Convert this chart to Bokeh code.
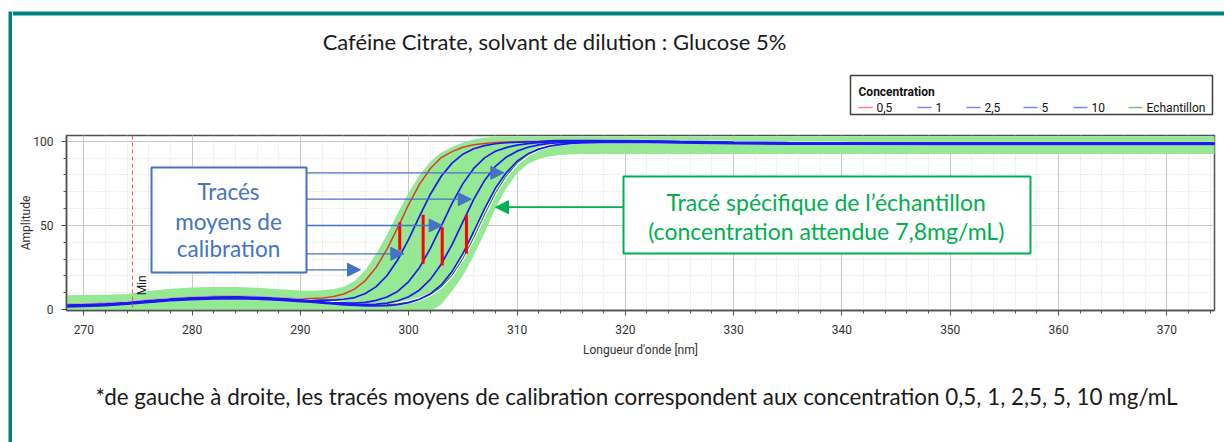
from bokeh.plotting import figure
from bokeh.layouts import row, column
from bokeh.models import (Range1d, FixedTicker, Span, Label,
                          BoxAnnotation, Arrow, NormalHead, ColumnDataSource)
from bokeh.core.properties import value
from bokeh.embed import file_html
from bokeh.resources import INLINE

# ---------------- data ----------------
wavelength = [268, 270, 272, 274, 276, 278, 280, 282, 284, 286, 288, 290,
              291, 292, 293, 294, 295, 296, 297, 298, 299, 300, 301, 302, 303,
              304, 305, 306, 307, 308, 309, 310, 311, 312, 313, 314, 315, 316,
              318, 320, 322, 325, 330, 335, 340, 350, 360, 370, 375]

conc_05 = [2.9, 3.2, 3.7, 4.5, 5.6, 6.6, 7.3, 7.7, 7.9, 7.6, 6.9, 6.3,
           6.6, 6.9, 7.6, 9.2, 12.1, 17.2, 25.1, 35.9, 48.9, 62.5, 74.5, 83.8, 90.3,
           93.8, 96.4, 97.9, 98.7, 99.2, 99.5, 99.7, 99.8, 99.9, 100.0, 100.0, 100.0, 100.0,
           100.0, 100.0, 99.9, 99.6, 99.2, 98.9, 98.8, 98.7, 98.7, 98.7, 98.7]
conc_1 = [2.55, 2.85, 3.35, 4.15, 5.25, 6.25, 6.95, 7.35, 7.55, 7.25, 6.55, 5.75,
          5.35, 5.6, 5.6, 6.1, 7.1, 9.5, 13.6, 20.2, 29.7, 41.8, 55.5, 68.5, 79.2,
          87.0, 92.3, 95.5, 97.4, 98.5, 99.1, 99.4, 99.6, 99.8, 100.2, 100.3, 100.3, 100.3,
          100.3, 100.3, 100.2, 99.9, 99.5, 99.2, 99.1, 99.0, 99.0, 99.0, 99.0]
conc_25 = [2.2, 2.5, 3.0, 3.8, 4.9, 5.9, 6.6, 7.0, 7.2, 6.9, 6.2, 5.4,
           5.0, 4.5, 4.0, 3.9, 3.8, 4.2, 5.4, 7.4, 10.9, 16.6, 25.0, 36.3, 49.6,
           63.1, 74.8, 83.8, 90.1, 94.0, 96.2, 97.7, 98.6, 99.2, 99.6, 99.8, 100.0, 100.0,
           100.0, 100.0, 99.9, 99.6, 99.2, 98.9, 98.8, 98.7, 98.7, 98.7, 98.7]
conc_5 = [1.85, 2.15, 2.65, 3.45, 4.55, 5.55, 6.25, 6.65, 6.85, 6.55, 5.85, 5.05,
          4.65, 4.15, 3.7, 3.3, 3.0, 3.0, 3.2, 3.8, 5.2, 7.6, 11.6, 17.9, 26.9,
          38.6, 52.1, 65.4, 76.7, 85.1, 90.5, 94.1, 96.4, 97.8, 98.7, 99.1, 99.4, 99.6,
          99.7, 99.7, 99.6, 99.3, 98.9, 98.6, 98.5, 98.4, 98.4, 98.4, 98.4]
conc_10 = [1.5, 1.8, 2.3, 3.1, 4.2, 5.2, 5.9, 6.3, 6.5, 6.2, 5.5, 4.7,
           4.3, 3.8, 3.3, 2.8, 2.4, 2.1, 2.1, 2.3, 2.9, 4.1, 6.1, 9.4, 14.6,
           22.5, 33.2, 46.2, 59.8, 72.0, 81.2, 88.1, 92.5, 95.3, 97.0, 98.0, 98.7, 99.0,
           99.3, 99.4, 99.3, 99.0, 98.6, 98.3, 98.2, 98.1, 98.1, 98.1, 98.1]
sample = [2.2, 2.5, 3.0, 3.8, 4.9, 5.9, 6.6, 7.0, 7.2, 6.9, 6.2, 5.4,
          5.0, 4.5, 4.0, 3.5, 3.0, 2.6, 2.7, 2.9, 3.4, 4.4, 6.1, 8.9, 13.5,
          20.4, 30.3, 42.8, 56.4, 69.2, 79.4, 87.0, 92.1, 95.3, 97.3, 98.4, 99.1, 99.5,
          99.9, 100.0, 99.9, 99.6, 99.2, 98.9, 98.8, 98.7, 98.7, 98.7, 98.7]
band_high = [8.4, 8.6, 8.8, 9.2, 11.0, 12.3, 13.0, 13.3, 13.3, 12.9, 12.0, 11.3,
             11.2, 11.4, 12.0, 13.5, 17.0, 23.5, 33.0, 44.5, 57.5, 69.5, 80.0, 88.0, 93.3,
             96.6, 99.2, 101.0, 102.2, 102.7, 102.8, 102.8, 102.8, 102.8, 102.8, 102.8, 102.8, 102.8,
             102.8, 102.8, 102.8, 102.8, 102.8, 102.8, 102.8, 102.8, 102.8, 102.8, 102.8]
band_low = [-1, -1, -1, -1, -1, -1, -1, -1, -1, -1, -1, -1,
            -1, -1, -1, -1, -1, -1, -1, -1, -1, -1, -1, -1, 3.0,
            11.0, 20.0, 32.0, 45.5, 60.0, 72.0, 81.0, 86.5, 89.5, 91.0, 91.8, 92.2, 92.4,
            92.4, 92.4, 92.4, 92.4, 92.4, 92.4, 92.4, 92.4, 92.4, 92.4, 92.4]

series_labels = ["0,5", "1", "2,5", "5", "10", "Echantillon"]
series_key_colors = ["#ff7f7f", "#7f7fff", "#7f7fff", "#7f7fff", "#7f7fff", "#7fbf7f"]
legend_title = "Concentration"
chart_title = "Caféine Citrate, solvant de dilution : Glucose 5%"
footnote = ("*de gauche à droite, les tracés moyens de calibration correspondent "
            "aux concentration 0,5, 1, 2,5, 5, 10 mg/mL")

# red marks between neighbouring calibration curves
bar_x = [299.17, 301.33, 303.09, 305.33]
bar_low = [35.1, 27.2, 26.1, 33.1]
bar_high = [51.9, 56.3, 48.9, 56.3]

min_position = 274.49

x_ticks = [270, 280, 290, 300, 310, 320, 330, 340, 350, 360, 370]
x_minor = list(range(268, 376, 2))
y_ticks = [0, 50, 100]
y_minor = [0, 10, 20, 30, 40, 50, 60, 70, 80, 90, 100]

TEAL = "#008080"
AX_FONT = "Roboto"
BOX_FONT = "Lato"


def no_align(f):
    if "frame_align" in f.properties():
        f.frame_align = False


def blank(width, height, x0, y0):
    # a figure whose frame is its whole canvas, with pixel-like ranges
    f = figure(width=width, height=height, x_range=Range1d(x0, x0 + width),
               y_range=Range1d(y0 + height, y0), output_backend="svg", toolbar_location=None,
               min_border=0, x_axis_location=None, y_axis_location=None)
    f.outline_line_color = None
    f.grid.visible = False
    f.background_fill_color = "white"
    f.border_fill_color = "white"
    no_align(f)
    return f


# ---------------- left teal bar ----------------
left_bar = blank(12, 442, 0, 0)
left_bar.quad(left=[8], right=[12], top=[11], bottom=[442], fill_color=TEAL, line_color=None)

# ---------------- header: teal line, title, legend ----------------
header = blank(1212, 127, 12, 0)
header.quad(left=[12], right=[1224], top=[11], bottom=[15], fill_color=TEAL, line_color=None)
header.text(x=[554], y=[41], text=[chart_title], text_font=value(BOX_FONT), text_font_size="22px",
            text_align="center", text_baseline="middle", text_color="#1a1a1a")

# legend box (drawn by hand, so that items keep their natural widths)
key_x = [858, 917, 966, 1023, 1073, 1128]
header.quad(left=[850], right=[1212], top=[75], bottom=[114], fill_color="white",
            line_color="#404040", line_width=1.5)
header.text(x=[858], y=[91], text=[legend_title], text_font=value(AX_FONT),
            text_font_size="12px", text_font_style=value("bold"), text_align="left",
            text_baseline="middle", text_color="#111111")
header.segment(x0=key_x, y0=[107] * 6, x1=[k + 14 for k in key_x], y1=[107] * 6,
               line_color=series_key_colors, line_width=1.5)
header.text(x=[k + 18 for k in key_x], y=[107] * 6, text=series_labels, text_font=value(AX_FONT),
            text_font_size="12px", text_align="left", text_baseline="middle", text_color="#111111")

# ---------------- main chart ----------------
p = figure(width=1212, height=233, x_range=Range1d(268.4, 374.4), y_range=Range1d(-0.6, 103.4),
           output_backend="svg", toolbar_location=None,
           min_border_left=54, min_border_right=10, min_border_top=8, min_border_bottom=50)
no_align(p)
p.background_fill_color = "white"
p.border_fill_color = "white"
p.outline_line_color = "#505050"
p.outline_line_width = 1.5

for ax in (p.xaxis[0], p.yaxis[0]):
    ax.axis_line_color = "#505050"
    ax.axis_line_width = 1.5
    ax.major_tick_line_color = "#505050"
    ax.minor_tick_line_color = "#505050"
    ax.major_tick_out = 5
    ax.major_tick_in = 0
    ax.minor_tick_out = 3
    ax.minor_tick_in = 0
    ax.major_label_text_font = AX_FONT
    ax.major_label_text_font_size = "12px"
    ax.major_label_text_color = "#333333"
    ax.axis_label_text_font = AX_FONT
    ax.axis_label_text_font_size = "12px"
    ax.axis_label_text_font_style = "normal"
    ax.axis_label_text_color = "#333333"

p.xaxis.ticker = FixedTicker(ticks=x_ticks, minor_ticks=x_minor)
p.yaxis.ticker = FixedTicker(ticks=y_ticks, minor_ticks=y_minor)
p.xaxis.axis_label = "Longueur d'onde [nm]"
p.yaxis.axis_label = "Amplitude"
p.xaxis.major_label_standoff = 9
p.xaxis.axis_label_standoff = 6
p.yaxis.major_label_standoff = 8
p.yaxis.axis_label_standoff = -3

for g in (p.xgrid[0], p.ygrid[0]):
    g.grid_line_color = "#c8c8c8"
    g.grid_line_width = 1
    g.minor_grid_line_color = "#d8d8d8"
    g.minor_grid_line_dash = "1 2"

# band (sample envelope)
p.varea(x=wavelength, y1=band_low, y2=band_high, fill_color="#8fe88f", fill_alpha=0.95)

# curves
p.line(wavelength, conc_05, line_color="#e03a2a", line_width=1.5)
p.line(wavelength, sample, line_color="white", line_width=3.5)
p.line(wavelength, sample, line_color="#2f8a2f", line_width=1.2)
blue = "#1a1aee"
for series in (conc_1, conc_25, conc_5, conc_10):
    p.line(wavelength, series, line_color=blue, line_width=1.7)

# red marks
p.segment(x0=bar_x, y0=bar_low, x1=bar_x, y1=bar_high, line_color="#ff0000", line_width=3)

# Min marker
p.add_layout(Span(location=min_position, dimension="height", line_color="#ff5050",
                  line_dash="4 3", line_width=1))
p.add_layout(Label(x=274.69, y=8.4, text="Min", angle=90, angle_units="deg",
                   text_align="left", text_baseline="top", text_font=AX_FONT,
                   text_font_size="12px", text_color="#222222"))

# annotation boxes
p.add_layout(BoxAnnotation(left=276.25, right=290.56, top=84.38, bottom=21.98,
                           fill_color="white", fill_alpha=1, line_color="#4472c4",
                           line_alpha=1, line_width=2))
p.add_layout(BoxAnnotation(left=319.83, right=357.41, top=79.03, bottom=33.27,
                           fill_color="white", fill_alpha=1, line_color="#00b050",
                           line_alpha=1, line_width=2))

arrow_src = ColumnDataSource(dict(x0=[290.56] * 5, y0=[81.23, 65.54, 49.91, 33.10, 23.59],
                                  x1=[308.78, 305.77, 303.09, 299.55, 295.55],
                                  y1=[81.23, 65.54, 49.91, 33.10, 23.59]))
p.add_layout(Arrow(end=NormalHead(size=13, fill_color="#4472c4", line_color="#4472c4"),
                   x_start="x0", y_start="y0", x_end="x1", y_end="y1", source=arrow_src,
                   line_color="#4472c4", line_width=1.3))
p.add_layout(Arrow(end=NormalHead(size=13, fill_color="#00b050", line_color="#00b050"),
                   x_start=319.83, y_start=60.8, x_end=308.01, y_end=60.8,
                   line_color="#00b050", line_width=1.8))

for txt, yy in (("Tracés", 70.3), ("moyens de", 52.5), ("calibration", 36.1)):
    p.add_layout(Label(x=283.36, y=yy, text=txt, text_align="center", text_baseline="middle",
                       text_font=BOX_FONT, text_font_size="22.5px", text_color="#4472c4"))
for txt, yy in (("Tracé spécifique de l\u2019échantillon", 63.8),
                ("(concentration attendue 7,8mg/mL)", 46.9)):
    p.add_layout(Label(x=338.55, y=yy, text=txt, text_align="center", text_baseline="middle",
                       text_font=BOX_FONT, text_font_size="23px", text_color="#00b050"))

# ---------------- footer ----------------
footer = blank(1212, 82, 12, 360)
footer.text(x=[636], y=[396], text=[footnote], text_font=value(BOX_FONT), text_font_size="22.4px",
            text_align="center", text_baseline="middle", text_color="#1a1a1a")

layout = row(left_bar, column(header, p, footer, spacing=0), spacing=0)
open("out.html", "w").write(file_html(layout, INLINE))
